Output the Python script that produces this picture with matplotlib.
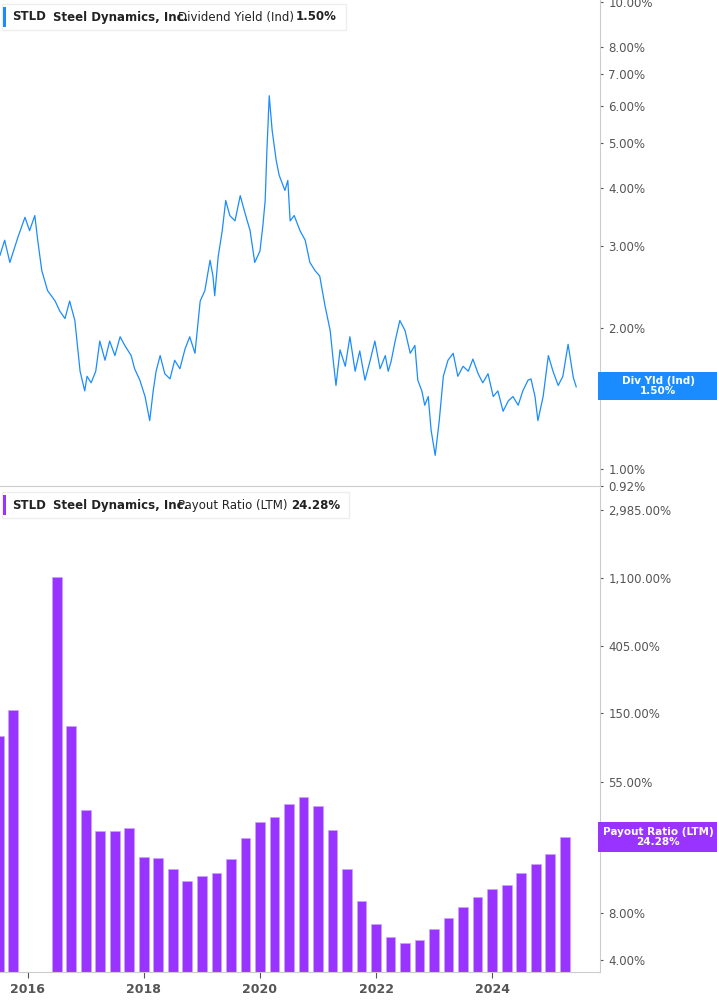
import matplotlib.pyplot as plt
import matplotlib.ticker as mticker
from matplotlib.patches import Rectangle

# dividend yield (%)
yld_years = [2015.52, 2015.60, 2015.69, 2015.83, 2015.95, 2016.03, 2016.12, 2016.17, 2016.24,
             2016.34, 2016.47, 2016.55, 2016.64, 2016.72, 2016.81, 2016.90, 2016.98, 2017.02,
             2017.09, 2017.17, 2017.24, 2017.33, 2017.41, 2017.50, 2017.59, 2017.67, 2017.78,
             2017.84, 2017.93, 2018.02, 2018.10, 2018.16, 2018.21, 2018.28, 2018.36, 2018.45,
             2018.53, 2018.62, 2018.71, 2018.79, 2018.88, 2018.97, 2019.05, 2019.14, 2019.19,
             2019.22, 2019.28, 2019.35, 2019.41, 2019.48, 2019.57, 2019.66, 2019.74, 2019.83,
             2019.91, 2020.00, 2020.05, 2020.09, 2020.12, 2020.16, 2020.21, 2020.28, 2020.33,
             2020.43, 2020.48, 2020.52, 2020.59, 2020.69, 2020.78, 2020.86, 2020.95, 2021.03,
             2021.12, 2021.21, 2021.26, 2021.31, 2021.38, 2021.47, 2021.55, 2021.64, 2021.72,
             2021.81, 2021.90, 2021.98, 2022.07, 2022.16, 2022.21, 2022.26, 2022.33, 2022.41,
             2022.50, 2022.59, 2022.67, 2022.72, 2022.79, 2022.84, 2022.90, 2022.95, 2023.02,
             2023.09, 2023.16, 2023.24, 2023.33, 2023.41, 2023.50, 2023.59, 2023.67, 2023.76,
             2023.84, 2023.93, 2024.02, 2024.10, 2024.19, 2024.28, 2024.36, 2024.45, 2024.53,
             2024.62, 2024.67, 2024.74, 2024.79, 2024.88, 2024.97, 2025.05, 2025.14, 2025.22,
             2025.31, 2025.40, 2025.45]
yld_values = [2.87, 3.09, 2.77, 3.14, 3.46, 3.24, 3.49, 3.09, 2.66, 2.41, 2.29, 2.18, 2.10, 2.29,
              2.08, 1.62, 1.47, 1.58, 1.53, 1.62, 1.88, 1.71, 1.88, 1.75, 1.92, 1.84, 1.75, 1.64,
              1.55, 1.43, 1.27, 1.47, 1.62, 1.75, 1.60, 1.56, 1.71, 1.64, 1.81, 1.92, 1.77, 2.29,
              2.41, 2.80, 2.59, 2.35, 2.85, 3.24, 3.76, 3.49, 3.40, 3.85, 3.54, 3.24, 2.77, 2.93,
              3.32, 3.76, 4.82, 6.30, 5.31, 4.58, 4.26, 3.95, 4.15, 3.40, 3.49, 3.24, 3.09, 2.77,
              2.66, 2.59, 2.24, 1.98, 1.72, 1.51, 1.80, 1.66, 1.92, 1.62, 1.79, 1.55, 1.71, 1.88,
              1.64, 1.75, 1.62, 1.70, 1.88, 2.08, 1.98, 1.77, 1.84, 1.55, 1.47, 1.37, 1.43, 1.21,
              1.07, 1.27, 1.58, 1.71, 1.77, 1.58, 1.66, 1.62, 1.72, 1.60, 1.53, 1.60, 1.43, 1.47,
              1.33, 1.40, 1.43, 1.37, 1.47, 1.55, 1.56, 1.43, 1.27, 1.43, 1.75, 1.62, 1.51, 1.58,
              1.85, 1.57, 1.50]

# payout ratio LTM (%), quarterly bars
pay_years = [2015.50, 2015.75,
             2016.50, 2016.75, 2017.00, 2017.25, 2017.50, 2017.75, 2018.00, 2018.25, 2018.50,
             2018.75, 2019.00, 2019.25, 2019.50, 2019.75, 2020.00, 2020.25, 2020.50, 2020.75,
             2021.00, 2021.25, 2021.50, 2021.75, 2022.00, 2022.25, 2022.50, 2022.75, 2023.00,
             2023.25, 2023.50, 2023.75, 2024.00, 2024.25, 2024.50, 2024.75, 2025.00, 2025.25]
pay_values = [107, 158,
              1118, 125, 36.3, 26.7, 26.7, 27.9, 18.2, 18.0, 15.2, 12.8, 13.8, 14.4, 17.7, 24.0,
              30.4, 32.7, 39.6, 44.0, 38.5, 27.0, 15.2, 9.5, 6.8, 5.6, 5.1, 5.4, 6.3, 7.4, 8.7,
              10.1, 11.3, 12.0, 14.4, 16.4, 19.0, 24.28]

yld_ticks = [0.92, 1, 2, 3, 4, 5, 6, 7, 8, 10]
pay_ticks = [4, 8, 55, 150, 405, 1100, 2985]
year_ticks = [2016, 2018, 2020, 2022, 2024]

blue = '#1a8cff'
purple = '#9933ff'
grey = '#555555'
W, H = 717, 1005

fig = plt.figure(figsize=(7.17, 10.05), dpi=100)
ax1 = fig.add_axes([0, 1 - 486 / H, 600 / W, 486 / H])
ax2 = fig.add_axes([0, 1 - 972 / H, 600 / W, 484 / H])
xlim = (2015.52, 2025.86)

ax1.plot(yld_years, yld_values, color=blue, lw=0.9)
ax1.set_yscale('log')
ax1.set_ylim(0.92, 10.1)
ax1.set_xlim(*xlim)
ax1.set_xticks([])
ax1.yaxis.tick_right()
ax1.set_yticks(yld_ticks)
ax1.set_yticklabels(['%.2f%%' % t for t in yld_ticks])
ax1.yaxis.set_minor_locator(mticker.NullLocator())

ax2.bar(pay_years, pay_values, width=0.17, color=purple, edgecolor='#c9a3ff', linewidth=0.5)
ax2.set_yscale('log')
ax2.set_ylim(3.35, 4130)
ax2.set_xlim(*xlim)
ax2.yaxis.tick_right()
ax2.set_yticks(pay_ticks)
ax2.set_yticklabels(['{:,.2f}%'.format(t) for t in pay_ticks])
ax2.yaxis.set_minor_locator(mticker.NullLocator())
ax2.set_xticks(year_ticks)
ax2.set_xticklabels([str(y) for y in year_ticks])

for ax in (ax1, ax2):
    for s in ('top', 'left'):
        ax.spines[s].set_visible(False)
    ax.spines['right'].set_color('#cccccc')
    ax.spines['bottom'].set_color('#cccccc')
    ax.tick_params(axis='y', length=2, colors=grey, labelsize=8.5, pad=4)
    ax.tick_params(axis='x', length=4, colors=grey, labelsize=9, pad=4)
    for lab in ax.get_xticklabels():
        lab.set_fontweight('bold')

# legend boxes (pixel layout)
for ytop, col, txt, val, valx, boxw in ((4, blue, 'Dividend Yield (Ind)', '1.50%', 296, 344),
                                        (492, purple, 'Payout Ratio (LTM)', '24.28%', 291, 347)):
    fig.patches.append(Rectangle((2 / W, 1 - (ytop + 26) / H), boxw / W, 26 / H,
                                 transform=fig.transFigure, fc='white', ec='#eeeeee', lw=1))
    fig.patches.append(Rectangle((3 / W, 1 - (ytop + 23) / H), 3 / W, 20 / H,
                                 transform=fig.transFigure, fc=col, ec='none'))
    yc = 1 - (ytop + 13) / H
    for x, s, w in ((12, 'STLD', 'bold'), (53, 'Steel Dynamics, Inc.', 'bold'),
                    (178, txt, 'normal'), (valx, val, 'bold')):
        fig.text(x / W, yc, s, fontsize=8.5, fontweight=w, color='#222222', va='center')

# right-side value tags
fig.patches.append(Rectangle((598 / W, 1 - 400 / H), 119 / W, 28 / H,
                             transform=fig.transFigure, fc=blue, ec='none'))
fig.text(658 / W, 1 - 386 / H, 'Div Yld (Ind)\n1.50%', color='white', fontsize=7.5,
         fontweight='bold', ha='center', va='center', linespacing=1.1)
fig.patches.append(Rectangle((598 / W, 1 - 852 / H), 119 / W, 30 / H,
                             transform=fig.transFigure, fc=purple, ec='none'))
fig.text(658 / W, 1 - 837 / H, 'Payout Ratio (LTM)\n24.28%', color='white', fontsize=7.5,
         fontweight='bold', ha='center', va='center', linespacing=1.1)

fig.savefig('out.png', dpi=100)
